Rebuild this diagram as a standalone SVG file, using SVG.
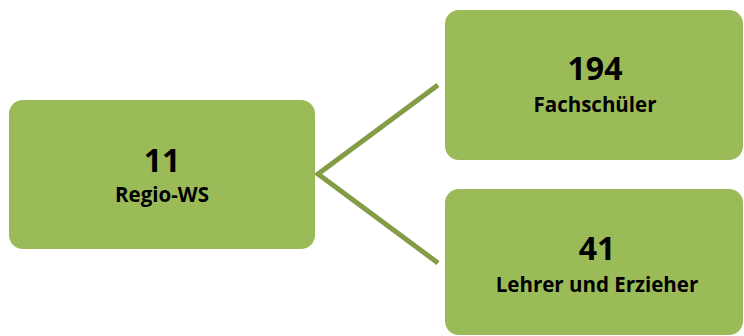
<svg xmlns="http://www.w3.org/2000/svg" width="744" height="336" viewBox="0 0 744 336">
<style>
.box{fill:#9bbb59;}
.num{font-family:"Open Sans","Liberation Sans",sans-serif;font-weight:bold;font-size:32px;fill:#000;text-anchor:middle;}
.lbl{font-family:"Open Sans","Liberation Sans",sans-serif;font-weight:bold;font-size:20.5px;fill:#000;text-anchor:middle;}
.conn{stroke:#839c46;stroke-width:5;fill:none;}
</style>
<rect width="744" height="336" fill="#fff"/>
<g id="connectors">
<path class="conn" d="M438,85 L318,174 L438,263"/>
</g>
<g id="node-regio">
<rect class="box" x="9" y="100" width="306" height="149" rx="14"/>
<text class="num" x="162" y="172">11</text>
<text class="lbl" x="162" y="202">Regio-WS</text>
</g>
<g id="node-fachschueler">
<rect class="box" x="445" y="10" width="298" height="150" rx="14"/>
<text class="num" x="595" y="80">194</text>
<text class="lbl" x="595" y="112">Fachschüler</text>
</g>
<g id="node-lehrer">
<rect class="box" x="445" y="189" width="298" height="146" rx="14"/>
<text class="num" x="597" y="260">41</text>
<text class="lbl" x="597" y="292">Lehrer und Erzieher</text>
</g>
</svg>
